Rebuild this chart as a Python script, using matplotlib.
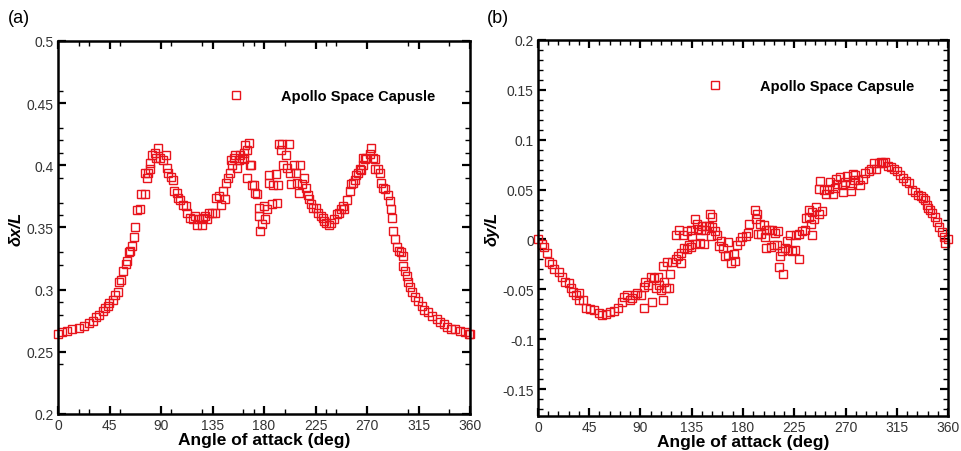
import numpy as np
import matplotlib
matplotlib.use("Agg")
import matplotlib.pyplot as plt
from matplotlib.ticker import FixedLocator, MultipleLocator, FuncFormatter

plt.rcParams['font.family'] = ['Liberation Sans', 'DejaVu Sans']

# (a) delta x / L vs angle of attack
aoa_a = [0, 3.8, 8.2, 12.6, 17.9, 22.9, 27.3, 30.8, 33.2, 36.1, 39.0, 41.4, 43.4, 44.9,
         47.8, 50.2, 52.2, 53.7, 54.6, 56.6, 59.0, 60.2, 61.9, 63.1, 64.6, 66.0, 66.9,
         69.2, 71.3, 72.8, 75.7, 75.7, 77.8, 78.6, 80.1, 80.7, 82.5, 84.5, 86.0, 87.4,
         88.9, 91.8, 94.2, 94.8, 96.2, 98.3, 100.6, 101.5, 103.6, 105.0, 106.5, 108.9,
         111.5, 113.0, 115.3, 117.7, 119.7, 121.8, 123.5, 125.6, 127.1, 128.5, 130.0,
         132.0, 134.4, 137.3, 138.2, 140.8, 142.3, 144.1, 146.1, 146.7, 148.2, 149.9,
         151.1, 152.0, 153.5, 154.9, 156.4, 157.9, 159.3, 160.8, 162.3, 162.9, 163.7,
         165.2, 166.7, 165.2, 167.3, 168.7, 169.6, 171.1, 172.5, 174.0, 175.5, 175.5,
         176.9, 178.4, 180.5, 179.9, 182.8, 184.3, 184.3, 186.6, 187.8, 190.1, 191.0,
         192.2, 193.1, 194.5, 196.0, 196.9, 198.9, 200.4, 201.9, 202.8, 203.9, 206.3,
         207.7, 209.2, 210.7, 211.6, 213.6, 215.1, 216.5, 218.0, 219.5, 221.0, 223.0,
         225.4, 226.8, 229.8, 231.2, 232.7, 234.2, 237.1, 238.6, 241.5, 243.8, 245.9,
         247.4, 248.8, 250.3, 252.6, 254.7, 256.2, 257.6, 259.1, 260.6, 262.0, 263.5,
         265.0, 266.4, 266.4, 267.9, 269.4, 272.3, 273.8, 275.2, 276.7, 277.3, 279.6,
         281.1, 282.6, 284.0, 286.1, 288.4, 289.9, 290.8, 291.4, 292.8, 294.3, 295.8,
         297.8, 299.6, 301.1, 301.6, 303.1, 304.6, 306.0, 307.5, 309.6, 311.9, 314.9,
         317.8, 320.1, 323.6, 326.6, 331.0, 333.9, 336.9, 339.8, 343.6, 347.1, 351.5,
         355.3, 358.9, 360]
dx_a = [0.264, 0.266, 0.267, 0.268, 0.269, 0.271, 0.273, 0.275, 0.278, 0.280, 0.283, 0.285,
        0.287, 0.289, 0.292, 0.296, 0.298, 0.306, 0.308, 0.315, 0.321, 0.323, 0.330, 0.331,
        0.335, 0.342, 0.350, 0.364, 0.365, 0.377, 0.377, 0.394, 0.390, 0.394, 0.397, 0.402,
        0.408, 0.410, 0.406, 0.414, 0.406, 0.404, 0.408, 0.398, 0.394, 0.391, 0.388, 0.379,
        0.378, 0.374, 0.372, 0.368, 0.367, 0.362, 0.358, 0.357, 0.359, 0.352, 0.357, 0.352,
        0.358, 0.359, 0.357, 0.362, 0.362, 0.362, 0.374, 0.375, 0.368, 0.379, 0.373, 0.386,
        0.390, 0.394, 0.404, 0.400, 0.406, 0.408, 0.398, 0.404, 0.408, 0.406, 0.405, 0.410,
        0.416, 0.412, 0.418, 0.390, 0.400, 0.400, 0.384, 0.384, 0.378, 0.377, 0.366, 0.359,
        0.347, 0.353, 0.357, 0.367, 0.365, 0.386, 0.392, 0.369, 0.384, 0.393, 0.370, 0.384,
        0.417, 0.412, 0.417, 0.400, 0.408, 0.398, 0.417, 0.394, 0.385, 0.400, 0.394, 0.386,
        0.378, 0.400, 0.385, 0.390, 0.382, 0.376, 0.373, 0.369, 0.366, 0.366, 0.362, 0.359,
        0.358, 0.355, 0.354, 0.352, 0.354, 0.357, 0.361, 0.362, 0.365, 0.367, 0.365, 0.372,
        0.379, 0.385, 0.386, 0.388, 0.392, 0.394, 0.397, 0.396, 0.400, 0.406, 0.405, 0.406,
        0.409, 0.414, 0.406, 0.405, 0.397, 0.397, 0.394, 0.386, 0.382, 0.381, 0.376, 0.371,
        0.365, 0.358, 0.347, 0.341, 0.334, 0.331, 0.330, 0.327, 0.319, 0.315, 0.311, 0.306,
        0.302, 0.298, 0.294, 0.291, 0.287, 0.284, 0.282, 0.279, 0.276, 0.274, 0.272, 0.270,
        0.268, 0.268, 0.267, 0.266, 0.264, 0.264]

# (b) delta y / L vs angle of attack
aoa_b = [0, 3.5, 5.5, 7.6, 9.9, 12.3, 14.3, 18.1, 21.0, 23.9, 26.9, 28.9, 30.9, 33.3, 35.6,
         35.6, 39.1, 42.0, 45.5, 49.3, 53.7, 56.6, 59.6, 63.1, 66.9, 70.7, 73.6, 75.6,
         78.5, 80.6, 82.9, 85.3, 87.3, 90.2, 93.1, 93.1, 93.7, 96.6, 99.0, 100.4, 101.9,
         103.4, 105.4, 106.3, 107.7, 110.1, 110.7, 112.1, 115.0, 110.1, 113.0, 115.9,
         118.0, 120.9, 123.1, 125.4, 125.4, 128.3, 130.6, 132.7, 134.0, 137.6, 142.2,
         145.7, 120.9, 123.8, 127.5, 131.0, 134.0, 135.4, 137.8, 139.3, 140.5, 142.8,
         144.3, 146.3, 147.2, 150.1, 151.0, 152.9, 152.9, 152.0, 155.0, 157.4, 158.8,
         160.3, 162.6, 163.8, 166.7, 166.7, 169.1, 172.6, 172.0, 174.9, 177.2, 179.3,
         182.2, 185.5, 184.5, 190.4, 192.4, 191.5, 194.5, 198.3, 200.3, 202.6, 205.5,
         207.9, 210.8, 193.3, 196.2, 199.1, 200.3, 205.0, 207.0, 210.0, 212.9, 214.3,
         216.7, 211.9, 214.9, 218.7, 221.7, 219.6, 223.1, 226.0, 228.9, 226.3, 229.3,
         231.6, 234.0, 240.4, 235.2, 237.7, 240.0, 242.0, 238.0, 240.9, 243.9, 246.8,
         249.3, 247.9, 247.0, 250.8, 252.8, 255.2, 256.6, 258.7, 260.4, 261.6, 262.5,
         265.4, 266.9, 267.4, 269.2, 271.2, 274.2, 275.0, 276.2, 277.1, 278.5, 280.6,
         282.9, 285.3, 287.3, 290.2, 292.3, 295.2, 296.9, 299.0, 301.0, 302.8, 304.8,
         306.9, 309.8, 312.7, 315.0, 317.4, 320.3, 323.2, 325.3, 328.2, 331.1, 334.0,
         336.1, 337.8, 339.8, 341.3, 342.8, 344.2, 345.7, 348.6, 350.7, 352.4, 354.5,
         356.5, 357.4, 360]
dy_b = [0.0, -0.005, -0.008, -0.014, -0.023, -0.025, -0.030, -0.033, -0.038, -0.043, -0.044,
        -0.049, -0.053, -0.056, -0.054, -0.061, -0.061, -0.069, -0.070, -0.071, -0.074,
        -0.076, -0.075, -0.073, -0.072, -0.069, -0.063, -0.058, -0.056, -0.061, -0.059,
        -0.056, -0.054, -0.056, -0.048, -0.069, -0.043, -0.046, -0.038, -0.063, -0.039,
        -0.049, -0.038, -0.046, -0.051, -0.061, -0.043, -0.049, -0.049, -0.027, -0.023,
        -0.035, -0.023, -0.020, -0.017, -0.024, -0.014, -0.009, -0.010, -0.006, -0.008,
        -0.005, -0.004, -0.005, 0.004, 0.010, 0.004, 0.008, 0.009, 0.003, 0.021, 0.016,
        0.011, 0.009, 0.014, 0.010, 0.014, 0.014, 0.026, 0.023, 0.013, 0.003, 0.008, 0.004,
        -0.007, -0.002, -0.009, -0.017, -0.003, -0.016, -0.024, -0.022, -0.015, -0.006,
        -0.002, 0.002, 0.003, 0.016, 0.006, 0.030, 0.026, 0.021, 0.016, 0.015, 0.009,
        0.009, 0.010, 0.006, 0.008, 0.005, 0.005, 0.002, -0.009, -0.008, -0.006, -0.006,
        -0.017, -0.012, -0.009, -0.028, -0.035, -0.002, 0.004, -0.011, -0.012, -0.011,
        -0.020, 0.004, 0.005, 0.008, 0.010, 0.004, 0.022, 0.023, 0.016, 0.021, 0.030,
        0.028, 0.033, 0.026, 0.029, 0.059, 0.051, 0.050, 0.046, 0.051, 0.058, 0.046, 0.052,
        0.061, 0.056, 0.063, 0.055, 0.048, 0.058, 0.064, 0.055, 0.049, 0.066, 0.060, 0.065,
        0.060, 0.055, 0.061, 0.067, 0.069, 0.071, 0.077, 0.071, 0.077, 0.078, 0.077, 0.078,
        0.074, 0.073, 0.071, 0.069, 0.065, 0.062, 0.059, 0.057, 0.050, 0.048, 0.045, 0.044,
        0.042, 0.040, 0.035, 0.032, 0.030, 0.027, 0.023, 0.018, 0.013, 0.007, 0.002,
        -0.004, 0.0]

xticks = [0, 45, 90, 135, 180, 225, 270, 315, 360]
minor_x_a = [18, 27, 54, 99, 126, 162, 171, 198, 234, 243, 306, 342]
minor_y_a = [0.24, 0.28, 0.29, 0.32, 0.33, 0.36, 0.37, 0.39, 0.41, 0.42, 0.43, 0.46]

red = '#e8141c'
fig = plt.figure(figsize=(9.61, 4.52), dpi=100)
ax1 = fig.add_axes([0.0604, 0.0819, 0.4287, 0.8252])
ax2 = fig.add_axes([0.5598, 0.0774, 0.4267, 0.8319])

fmt = FuncFormatter(lambda v, p: '%g' % round(v, 3))

def style(ax):
    ax.set_xlim(0, 360)
    ax.set_xticks(xticks)
    ax.tick_params(which='both', direction='in', top=True, right=True,
                   labelsize=10, labelcolor='#333333', pad=3)
    ax.tick_params(which='major', length=6, width=1.6)
    ax.tick_params(which='minor', length=3.5, width=1.0)
    for s in ax.spines.values():
        s.set_linewidth(1.8)
    ax.yaxis.set_major_formatter(fmt)
    ax.set_xlabel('Angle of attack (deg)', fontsize=12.5, fontweight='bold', labelpad=0)

ax1.plot(aoa_a, dx_a, 's', mfc='none', mec=red, ms=5.5, mew=1.0,
         label='Apollo Space Capusle', clip_on=False)
style(ax1)
ax1.set_ylim(0.2, 0.5)
ax1.set_yticks(np.arange(0.2, 0.501, 0.05))
ax1.xaxis.set_minor_locator(FixedLocator(minor_x_a))
ax1.yaxis.set_minor_locator(FixedLocator(minor_y_a))
ax1.set_ylabel('δx/L', fontsize=12, fontstyle='italic', fontweight='bold', labelpad=2)
ax1.legend(loc='center left', bbox_to_anchor=(0.414, 0.853), frameon=False,
           borderpad=0, borderaxespad=0, handlelength=1, handletextpad=2.6, numpoints=1,
           prop={'weight': 'bold', 'size': 10.5})

ax2.plot(aoa_b, dy_b, 's', mfc='none', mec=red, ms=5.5, mew=1.0,
         label='Apollo Space Capsule', clip_on=False)
style(ax2)
ax2.set_ylim(-0.177, 0.2)
ax2.set_yticks(np.arange(-0.15, 0.201, 0.05))
ax2.xaxis.set_minor_locator(MultipleLocator(9))
ax2.yaxis.set_minor_locator(MultipleLocator(0.01))
ax2.set_ylabel('δy/L', fontsize=12, fontstyle='italic', fontweight='bold', labelpad=2)
ax2.legend(loc='center left', bbox_to_anchor=(0.414, 0.878), frameon=False,
           borderpad=0, borderaxespad=0, handlelength=1, handletextpad=2.6, numpoints=1,
           prop={'weight': 'bold', 'size': 10.5})

fig.text(0.008, 0.96, '(a)', fontsize=13, va='center')
fig.text(0.507, 0.96, '(b)', fontsize=13, va='center')

fig.savefig('out.png', dpi=100)
